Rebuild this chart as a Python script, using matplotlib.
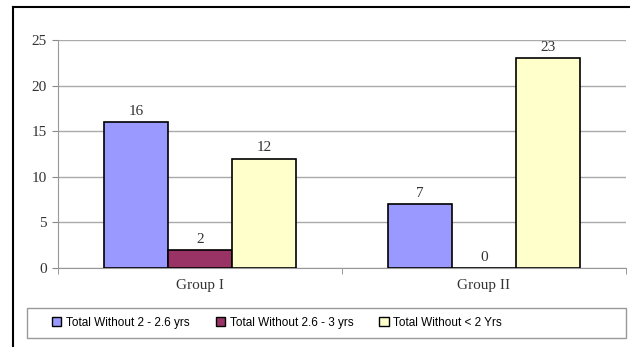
import matplotlib.pyplot as plt
import numpy as np
from matplotlib.lines import Line2D
from matplotlib.patches import Patch

groups = ['Group I', 'Group II']
series = ['Total Without 2 - 2.6 yrs', 'Total Without 2.6 - 3 yrs', 'Total Without < 2 Yrs']
values = [[16, 7], [2, 0], [12, 23]]
colors = ['#9999FF', '#993366', '#FFFFCC']
yticks = [0, 5, 10, 15, 20, 25]

fig = plt.figure(figsize=(6.3, 3.47), dpi=100)
ax = fig.add_axes([58/630, 1-268/347, 568/630, 228/347])

x = np.arange(len(groups))
w = 0.225
for i, (name, vals, c) in enumerate(zip(series, values, colors)):
    bars = ax.bar(x + (i - 1) * w, vals, w, color=c, edgecolor='black', linewidth=1.2, label=name, zorder=3)
    for b, v in zip(bars, vals):
        ax.annotate(str(v), (b.get_x() + b.get_width()/2, v), xytext=(0, 3), textcoords='offset points',
                    ha='center', va='bottom', fontsize=11, family='Liberation Serif', color='#333333')

ax.set_xlim(-0.5, 1.5)
ax.set_ylim(0, 25)
ax.set_yticks(yticks)
ax.set_xticks(x)
ax.set_xticklabels(groups)
ax.set_xticks([-0.5, 0.5, 1.5], minor=True)
ax.tick_params(axis='x', which='major', length=0, pad=8)
ax.tick_params(axis='x', which='minor', length=4, color='#888888')
ax.tick_params(axis='y', length=4, color='#888888', pad=4)
for lab in ax.get_xticklabels() + ax.get_yticklabels():
    lab.set_family('Liberation Serif')
    lab.set_fontsize(11)
    lab.set_color('#333333')

ax.grid(axis='y', color='#AAAAAA', linewidth=1, zorder=0)
for s in ['top', 'right']:
    ax.spines[s].set_visible(False)
for s in ['left', 'bottom']:
    ax.spines[s].set_color('#999999')

# outer frame (only left and top visible in the reference)
fig.add_artist(Line2D([13/630, 13/630], [0, 1-7/347], transform=fig.transFigure, color='black', linewidth=1.5))
fig.add_artist(Line2D([13/630, 1], [1-7/347, 1-7/347], transform=fig.transFigure, color='black', linewidth=1.5))

# legend box
fig.add_artist(plt.Rectangle((27/630, 1-338/347), 599/630, 30/347, transform=fig.transFigure,
                             fill=False, edgecolor='#999999', linewidth=1))
handles = [Patch(facecolor=c, edgecolor='black', linewidth=1) for c in colors]
fig.legend(handles, series, loc='center', bbox_to_anchor=(277/630, 1-323/347), ncol=3, frameon=False,
           prop={'family': 'Liberation Sans', 'size': 8.5}, handlelength=0.8, handleheight=0.8,
           handletextpad=0.4, columnspacing=2.2)

fig.savefig('out.png', dpi=100)
